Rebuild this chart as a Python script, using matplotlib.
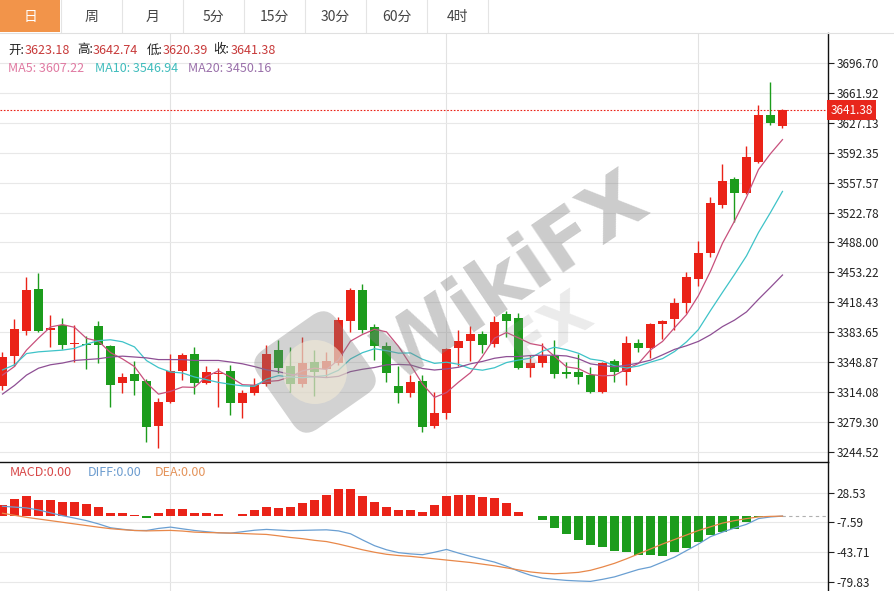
import numpy as np
import pandas as pd
import matplotlib
matplotlib.use("Agg")
import matplotlib.pyplot as plt
from matplotlib.patches import Rectangle, FancyBboxPatch, Circle
from matplotlib.lines import Line2D
from matplotlib.transforms import Affine2D, IdentityTransform

plt.rcParams['font.family'] = ['Noto Sans CJK SC', 'DejaVu Sans']

# ----------------------------
# Daily candles
# ----------------------------
open_ = [3321.4, 3356.2, 3385.2, 3434.0, 3386.0, 3392.2, 3370.1, 3370.1, 3391.4, 3367.8,
         3324.5, 3334.9, 3327.5, 3275.3, 3303.1, 3338.8, 3358.5, 3325.2, 3335.3, 3339.1,
         3302.0, 3313.6, 3323.7, 3363.2, 3344.6, 3323.7, 3349.6, 3340.7, 3348.4, 3397.2,
         3432.8, 3390.2, 3367.8, 3321.4, 3313.6, 3327.2, 3274.9, 3289.7, 3365.1, 3373.6,
         3381.7, 3370.1, 3405.0, 3400.0, 3342.6, 3348.4, 3356.2, 3337.6, 3338.0, 3334.1,
         3314.7, 3350.4, 3338.0, 3370.9, 3365.1, 3393.3, 3398.8, 3417.4, 3445.6, 3476.1,
         3531.5, 3561.3, 3545.8, 3581.8, 3636.0, 3623.18]
high = [3361.2, 3398.8, 3447.6, 3452.2, 3403.8, 3400.6, 3392.2, 3379.4, 3396.8, 3368.9,
        3336.8, 3350.4, 3329.0, 3307.1, 3358.2, 3360.0, 3366.3, 3344.6, 3341.9, 3345.7,
        3316.7, 3330.3, 3368.9, 3374.8, 3366.3, 3377.9, 3363.2, 3361.2, 3401.8, 3434.8,
        3439.8, 3393.3, 3372.8, 3344.6, 3334.1, 3334.1, 3314.7, 3365.1, 3386.4, 3391.0,
        3385.6, 3402.6, 3408.8, 3405.8, 3357.3, 3370.9, 3374.8, 3349.6, 3358.5, 3343.8,
        3349.6, 3352.3, 3379.4, 3375.6, 3394.1, 3398.0, 3423.2, 3454.1, 3490.0, 3540.4,
        3579.1, 3564.4, 3600.0, 3647.6, 3674.6, 3642.74]
low = [3316.7, 3344.6, 3380.6, 3384.4, 3366.3, 3364.0, 3349.6, 3340.7, 3347.7, 3296.6,
       3312.9, 3310.9, 3256.7, 3249.0, 3301.5, 3328.3, 3312.1, 3323.7, 3297.3, 3287.7,
       3283.9, 3310.9, 3321.4, 3336.1, 3314.7, 3319.8, 3309.8, 3331.5, 3345.7, 3384.4,
       3382.5, 3351.5, 3326.4, 3302.0, 3308.2, 3268.3, 3273.0, 3282.7, 3344.6, 3350.7,
       3360.0, 3366.3, 3377.9, 3340.5, 3331.5, 3343.1, 3330.3, 3330.3, 3323.7, 3313.0,
       3312.9, 3326.4, 3322.5, 3361.2, 3353.5, 3375.6, 3386.4, 3405.8, 3437.5, 3471.5,
       3527.7, 3512.1, 3544.0, 3580.0, 3624.0, 3620.39]
close = [3355.4, 3387.2, 3432.8, 3385.2, 3389.0, 3368.9, 3371.6, 3368.6, 3368.9, 3322.5,
         3332.2, 3327.5, 3274.1, 3303.1, 3338.8, 3357.3, 3325.2, 3337.3, 3336.8, 3301.3,
         3313.6, 3322.5, 3358.2, 3342.6, 3323.7, 3347.7, 3338.0, 3350.7, 3398.0, 3432.8,
         3386.4, 3367.8, 3336.1, 3313.6, 3326.4, 3274.1, 3290.4, 3364.0, 3373.9, 3381.7,
         3368.9, 3396.0, 3396.8, 3342.6, 3348.4, 3356.2, 3335.3, 3335.3, 3332.2, 3314.7,
         3348.4, 3338.0, 3371.6, 3365.1, 3393.3, 3397.2, 3417.4, 3448.2, 3476.1, 3534.2,
         3559.7, 3545.8, 3587.6, 3636.0, 3626.4, 3641.38]

# moving-average values before a full window is available
ma5_head = [3334, 3344, 3363, 3377]
ma10_head = [3340, 3346, 3359, 3361, 3362, 3363, 3365, 3370, 3374]
ma20_head = [3312, 3322, 3334, 3342, 3346, 3348, 3351, 3352, 3353, 3355,
             3356, 3355, 3354, 3352, 3352, 3352, 3351, 3351, 3351]

# values printed in the legend
last_ohlc = {"开": 3623.18, "高": 3642.74, "低": 3620.39, "收": 3641.38}
ma_legend = {"MA5": 3607.22, "MA10": 3546.94, "MA20": 3450.16}

# MACD panel
macd_hist = [13, 20.3, 23.9, 19.1, 19.1, 17, 16.6, 14.4, 10.5, 4,
             3.4, 0.8, -2.4, 3.4, 8.1, 8.1, 4, 4, 2.4, 0.4,
             2.8, 6.9, 10.7, 9.5, 10.7, 16.2, 19.9, 26, 33.3, 32.8,
             23.9, 17.4, 10.7, 6.9, 6.9, 4.5, 13.4, 24.2, 26, 26,
             23.5, 22.5, 15.4, 4.5, 0.3, -5.3, -14.6, -21.5, -28.6, -34.9,
             -37.7, -42.6, -44.2, -47.8, -47.8, -48.7, -44.2, -38.7, -31.6, -23.1,
             -19, -16.2, -7.7, -0.8, 0, 0]
diff = [12, 11, 10, 7.5, 4, 0.5, -2.4, -5.5, -9.5, -14.2,
        -16, -17.5, -17.5, -15, -13.4, -15.5, -17.5, -19, -20.3, -20.7,
        -19, -17.2, -16.2, -17, -17.7, -17.4, -17, -16.7, -18, -21.5,
        -29, -36, -41, -44.5, -46, -47, -44, -40.6, -45, -49,
        -52.5, -56, -61, -67, -72, -75.5, -77, -78.3, -79, -79.5,
        -77, -74, -69.5, -65, -62, -56, -50, -42, -34, -25,
        -19.5, -14.5, -10, -3, -1, 0]
dea = [3.5, 1, -1.5, -3.5, -5.5, -7.5, -9.5, -11.5, -13.5, -15.3,
       -16.5, -17.5, -18, -17.7, -17.4, -18.2, -19.5, -20, -20.3, -20.7,
       -21.2, -21.8, -22.3, -24, -26, -27.5, -29.5, -31, -34, -37.5,
       -41, -44, -46.5, -48, -49, -50.5, -52, -53.5, -55, -56.5,
       -58.5, -60.5, -63, -65.5, -68, -69.5, -70.2, -69.5, -68.5, -66,
       -62, -57.5, -52, -46, -40, -34, -28.5, -23, -17.5, -13,
       -8.5, -5.5, -3, -1, -0.3, 0]

price_ticks = [3244.52, 3279.30, 3314.08, 3348.87, 3383.65, 3418.43, 3453.22,
               3488.00, 3522.78, 3557.57, 3592.35, 3627.13, 3661.92, 3696.70]
macd_ticks = [28.53, -7.59, -43.71, -79.83]
month_starts = [14, 37, 58]
tabs = ["日", "周", "月", "5分", "15分", "30分", "60分", "4时"]

# ----------------------------
# Styling
# ----------------------------
RED = "#ea2318"
GREEN = "#1c9c1c"
ORANGE_TAB = "#f2944a"
GRID = "#e8e8e8"

W, H = 895, 591
fig = plt.figure(figsize=(W / 100, H / 100), dpi=100)


def fx(x):
    return x / W


def fy(y):
    return 1 - y / H


ax = fig.add_axes([0, fy(462), 828 / W, (462 - 33) / H])
ax2 = fig.add_axes([0, 0, 828 / W, fy(462)])

o = np.array(open_)
c = np.array(close)
idx = np.arange(len(c))

closes = pd.Series(c)
ma5 = closes.rolling(5).mean().to_numpy()
ma5[:len(ma5_head)] = ma5_head
ma10 = closes.rolling(10).mean().to_numpy()
ma10[:len(ma10_head)] = ma10_head
ma20 = closes.rolling(20).mean().to_numpy()
ma20[:len(ma20_head)] = ma20_head

# ---- candles ----
cols = np.where(c >= o, RED, GREEN)
ax.vlines(idx, low, high, colors=cols, lw=1.0, zorder=3)
ax.bar(idx, np.maximum(np.abs(c - o), 1.5), bottom=np.minimum(o, c),
       width=0.7, color=cols, linewidth=0, zorder=4)

ax.plot(idx, ma5, color="#c8507c", lw=0.9, zorder=5)
ax.plot(idx, ma10, color="#3ec3c8", lw=0.9, zorder=5)
ax.plot(idx, ma20, color="#8e4f94", lw=0.9, zorder=5)

ax.axhline(close[-1], color=RED, lw=0.8, ls=(0, (1.5, 1.5)), zorder=2)

xlim = (-2.5 / 12, (828 - 2.5) / 12)
for a in (ax, ax2):
    a.set_xlim(*xlim)
    a.set_xticks([])
    a.yaxis.tick_right()
    a.grid(axis="y", color=GRID, lw=0.8)
    for xm in month_starts:
        a.axvline(xm, color="#e2e2e2", lw=0.8, zorder=0)
    a.set_axisbelow(True)
    for s in ("left", "bottom", "top"):
        a.spines[s].set_visible(False)
    a.spines["right"].set_color("#111111")
    a.spines["right"].set_linewidth(1.0)
    a.tick_params(axis="y", direction="out", length=4, width=0.8,
                  colors="#222222", labelsize=8.5, pad=2)

ax.set_ylim(3233.1, 3731.2)
ax.set_yticks(price_ticks)
ax.set_yticklabels([f"{t:.2f}" for t in price_ticks])

ax.text(1.003, close[-1], f"{close[-1]:.2f}", transform=ax.get_yaxis_transform(),
        ha="left", va="center", color="white", fontsize=8.5, zorder=10, clip_on=False,
        bbox=dict(boxstyle="square,pad=0.3", fc="#e8261c", ec="none"))

# ---- MACD ----
hist = np.array(macd_hist)
ax2.bar(idx, hist, width=0.72, color=np.where(hist >= 0, RED, GREEN), linewidth=0, zorder=3)
ax2.plot(idx, diff, color="#6a9fd2", lw=0.9, zorder=4)
ax2.plot(idx, dea, color="#e8884a", lw=0.9, zorder=4)
ax2.hlines(0, idx[-1], xlim[1], colors="#b0b0b0", lw=0.8, ls=(0, (3, 3)), zorder=2)
ax2.set_ylim(-91.2, 65.9)
ax2.set_yticks(macd_ticks)
ax2.set_yticklabels([f"{t:.2f}" for t in macd_ticks])
ax2.spines["top"].set_visible(True)
ax2.spines["top"].set_color("#111111")
ax2.spines["top"].set_linewidth(1.0)

# ---- tab bar ----
fig.add_artist(Rectangle((0, fy(32)), fx(60.5), 32 / H, transform=fig.transFigure,
                         fc=ORANGE_TAB, ec="none"))
for k, lab in enumerate(tabs):
    fig.text(fx(30.5 + 61 * k), fy(16.5), lab, ha="center", va="center", fontsize=10,
             color="white" if k == 0 else "#444444")
    xd = 60.7 + 61 * k
    fig.add_artist(Line2D([fx(xd), fx(xd)], [fy(0), fy(32)], transform=fig.transFigure,
                          color="#e4e4e4", lw=0.8))
fig.add_artist(Line2D([0, 1], [fy(33), fy(33)], transform=fig.transFigure,
                      color="#e0e0e0", lw=0.8))

# ---- legends ----
LBL = dict(fontsize=9, va="center", ha="left")
for (xl, xn), (lab, val) in zip([(8, 25), (77, 93), (147, 163), (213, 231)], last_ohlc.items()):
    fig.text(fx(xl), fy(50), lab + ":", color="#222222", **LBL)
    fig.text(fx(xn), fy(50), f"{val:.2f}", color="#c83a3a", **LBL)
for xl, (name, val), colr in zip([8, 95, 188], ma_legend.items(),
                                 ["#e07aa2", "#3fbcbc", "#9a70aa"]):
    fig.text(fx(xl), fy(68), f"{name}: {val:.2f}", color=colr, **LBL)

fig.text(fx(10), fy(473), "MACD:0.00", color="#d84848", **LBL)
fig.text(fx(88), fy(473), "DIFF:0.00", color="#6c9ccf", **LBL)
fig.text(fx(155), fy(473), "DEA:0.00", color="#e4935a", **LBL)

# ---- watermark ----
cx, cy = 315, H - 372
logo = FancyBboxPatch((cx - 48, cy - 48), 96, 96, boxstyle="round,pad=0,rounding_size=18",
                      transform=Affine2D().rotate_deg_around(cx, cy, 35),
                      fc="#808080", ec="none", alpha=0.35, zorder=20)
fig.add_artist(logo)
fig.add_artist(Circle((cx, cy), 32, transform=IdentityTransform(), fc="#f2ead6",
                      ec="none", alpha=0.6, zorder=21))
fig.text(fx(512), fy(278), "WikiFX", fontsize=57, fontweight="bold", family="DejaVu Sans",
         color="#808080", alpha=0.4, rotation=34, ha="center", va="center", zorder=22)
fig.text(fx(550), fy(330), "FX", fontsize=44, fontweight="bold", family="DejaVu Sans",
         color="#9a9a9a", alpha=0.2, rotation=34, ha="center", va="center", zorder=22)

fig.savefig("out.png", dpi=100, facecolor="white")
